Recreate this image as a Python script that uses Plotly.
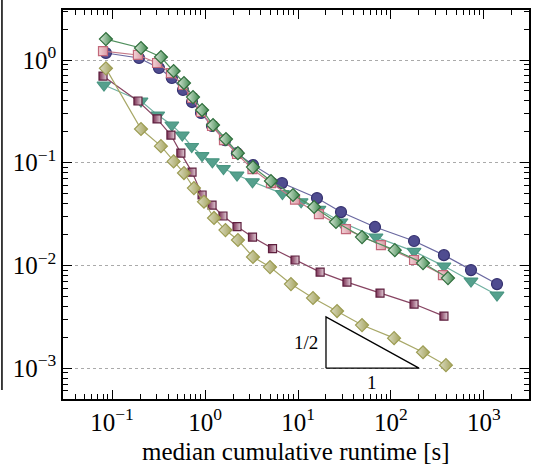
import plotly.graph_objects as go
import numpy as np

# ---------------- data ----------------
navy_x = [0.086, 0.195, 0.32, 0.44, 0.58, 0.725, 0.906, 1.19, 1.64, 2.21, 3.28, 6.73, 16.0, 29.0, 67.3, 177, 371, 725, 1380]
navy_y = [1.17, 1.046, 0.836, 0.668, 0.511, 0.390, 0.305, 0.228, 0.166, 0.124, 0.095, 0.0634, 0.0453, 0.0331, 0.0237, 0.0173, 0.0126, 0.00902, 0.00659]

teal_x = [0.082, 0.205, 0.31, 0.44, 0.57, 0.72, 0.93, 1.20, 1.58, 2.21, 3.24, 6.8, 10.8, 16.8, 29.0, 69.0, 177, 371, 725, 1380]
teal_y = [0.571, 0.399, 0.291, 0.233, 0.186, 0.144, 0.1175, 0.102, 0.0878, 0.0759, 0.0653, 0.0501, 0.0417, 0.0352, 0.0265, 0.0189, 0.0137, 0.00986, 0.00705, 0.00515]

pink_x = [0.080, 0.19, 0.305, 0.43, 0.58, 0.725, 0.906, 1.19, 1.60, 2.21, 3.24, 5.12, 9.29, 16.8, 32.8, 78.0, 177, 362]
pink_y = [1.22, 1.12, 0.935, 0.747, 0.571, 0.427, 0.312, 0.228, 0.166, 0.1216, 0.0868, 0.0634, 0.0438, 0.0316, 0.0226, 0.0158, 0.0113, 0.00807]

green_x = [0.086, 0.205, 0.336, 0.46, 0.594, 0.743, 0.93, 1.22, 1.68, 2.26, 3.28, 5.12, 8.84, 14.9, 25.6, 48.8, 110, 221, 410]
green_y = [1.60, 1.31, 1.07, 0.782, 0.597, 0.436, 0.326, 0.233, 0.170, 0.124, 0.0908, 0.0664, 0.0485, 0.0371, 0.0265, 0.0189, 0.0141, 0.01055, 0.00754]

maroon_x = [0.080, 0.19, 0.305, 0.43, 0.55, 0.725, 0.93, 1.19, 1.56, 2.21, 3.24, 5.32, 9.29, 17.3, 33.6, 76.2, 177, 371]
maroon_y = [0.698, 0.399, 0.267, 0.186, 0.124, 0.0811, 0.0485, 0.0387, 0.0303, 0.0239, 0.0189, 0.0146, 0.0113, 0.00862, 0.00689, 0.00539, 0.00421, 0.00321]

olive_x = [0.086, 0.205, 0.336, 0.46, 0.594, 0.76, 0.975, 1.25, 1.66, 2.26, 3.28, 5.0, 8.4, 14.5, 26.3, 48.8, 108, 221, 390]
olive_y = [0.83, 0.213, 0.145, 0.103, 0.0794, 0.0567, 0.0417, 0.029, 0.0221, 0.0177, 0.0121, 0.00964, 0.00659, 0.00482, 0.0036, 0.00263, 0.00196, 0.00143, 0.00107]

# slope triangle (1/2 per decade)
tri_x = [20, 20, 200, 20]
tri_y = [1e-3, 1e-3 * 10 ** 0.5, 1e-3, 1e-3]

x_ticks = [0.1, 1, 10, 100, 1000]
x_ticktext = ["10<sup>−1</sup>", "10<sup>0</sup>", "10<sup>1</sup>", "10<sup>2</sup>", "10<sup>3</sup>"]
y_ticks = [1e-3, 1e-2, 1e-1, 1]
y_ticktext = ["10<sup>−3</sup>", "10<sup>−2</sup>", "10<sup>−1</sup>", "10<sup>0</sup>"]
x_label = "median cumulative runtime [s]"

FONT = "'Liberation Serif', 'DejaVu Serif', serif"

fig = go.Figure()

def add(x, y, line_col, fill, edge, symbol, size, grad=None, gtype="horizontal"):
    marker = dict(symbol=symbol, size=size, color=fill, line=dict(color=edge, width=1.2))
    if grad is not None:
        marker["gradient"] = dict(type=gtype, color=grad)
    fig.add_trace(go.Scatter(x=x, y=y, mode="lines+markers",
                             line=dict(color=line_col, width=1.2),
                             marker=marker, showlegend=False))

add(navy_x, navy_y, "#6a68a0", "#4f4c90", "#35316f", "circle", 11)
add(teal_x, teal_y, "#6fb0a0", "#55a08d", "#4a9682", "triangle-down", 12)
add(pink_x, pink_y, "#c57a88", "#f2d4d8", "#c2687a", "square", 9, grad="#d99aa5")
add(green_x, green_y, "#4f8f5c", "#dbe8da", "#2f6e3c", "diamond", 10, grad="#3f8a4f")
add(maroon_x, maroon_y, "#874462", "#7a2e52", "#5e1f3e", "square", 8, grad="#e2cfd8")
add(olive_x, olive_y, "#a8a868", "#dcdcc4", "#9c9c52", "diamond", 10, grad="#a3a25a")

fig.add_trace(go.Scatter(x=tri_x, y=tri_y, mode="lines",
                         line=dict(color="black", width=1.3), showlegend=False))

fig.add_annotation(x=np.log10(20), y=np.log10(1e-3 * 10 ** 0.25), text="1/2",
                   showarrow=False, xanchor="right", xshift=-6,
                   font=dict(family=FONT, size=19, color="black"))
fig.add_annotation(x=np.log10(np.sqrt(20 * 200)), y=np.log10(1e-3), text="1",
                   showarrow=False, yanchor="top", yshift=-2,
                   font=dict(family=FONT, size=19, color="black"))
fig.add_annotation(xref="paper", yref="paper", x=0.5, y=-0.134, text=x_label,
                   showarrow=False, xanchor="center", yanchor="middle",
                   font=dict(family=FONT, size=25, color="black"))

def minor_vals(lo, hi):
    v = []
    for e in range(lo, hi + 1):
        for m in range(2, 10):
            v.append(m * 10.0 ** e)
    return v

fig.update_xaxes(type="log", range=[-1.527, 3.484], automargin=False,
                 tickmode="array", tickvals=x_ticks, ticktext=x_ticktext,
                 ticks="inside", ticklen=9, tickwidth=1.3, tickcolor="black",
                 showline=True, linecolor="black", linewidth=1.5, mirror="ticks",
                 showgrid=False, zeroline=False,
                 minor=dict(tickmode="array", tickvals=minor_vals(-2, 3), ticks="inside",
                            ticklen=5, tickwidth=1, tickcolor="black", showgrid=False),
                 tickfont=dict(family=FONT, size=25, color="black"))
fig.update_yaxes(type="log", range=[-3.30, 0.487], automargin=False,
                 tickmode="array", tickvals=y_ticks, ticktext=y_ticktext,
                 ticks="inside", ticklen=9, tickwidth=1.3, tickcolor="black",
                 showline=True, linecolor="black", linewidth=1.5, mirror="ticks",
                 showgrid=True, gridcolor="#aaaaaa", griddash="dot", gridwidth=1.2,
                 zeroline=False,
                 minor=dict(tickmode="array", tickvals=minor_vals(-4, 0), ticks="inside",
                            ticklen=5, tickwidth=1, tickcolor="black", showgrid=False),
                 tickfont=dict(family=FONT, size=25, color="black"))

# edge of the neighbouring panel, cut off on the left
fig.add_shape(type="line", xref="paper", yref="paper",
              x0=-0.131, x1=-0.131, y0=0.023, y1=1.03,
              line=dict(color="black", width=1.5))

fig.update_layout(width=534, height=467, margin=dict(l=63, r=5, t=10, b=68),
                  plot_bgcolor="white", paper_bgcolor="white")

fig.write_html("out.html", config={"displayModeBar": False},
               post_script="document.body.style.margin='0px';")
